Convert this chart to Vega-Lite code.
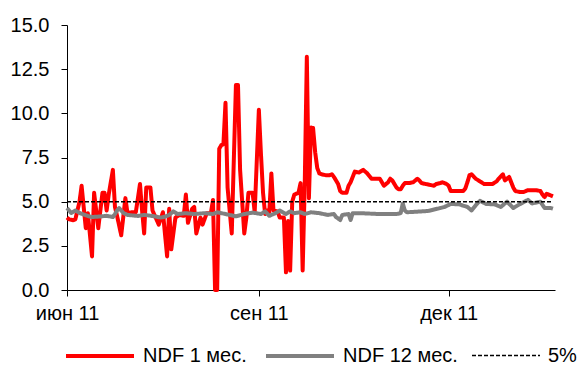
{
  "$schema": "https://vega.github.io/schema/vega-lite/v6.json",
  "width": 488,
  "height": 265,
  "autosize": {"type": "none"},
  "padding": {"left": 67, "top": 25, "right": 28, "bottom": 75},
  "background": "white",
  "config": {
    "view": {"stroke": null},
    "font": "Liberation Sans",
    "axis": {"grid": false, "domainColor": "#000000", "tickColor": "#000000", "labelColor": "#000000", "labelFont": "Liberation Sans", "labelFontSize": 20, "tickSize": 6, "domainWidth": 1, "tickWidth": 1, "title": null},
    "legend": {"labelFont": "Liberation Sans", "labelFontSize": 20, "labelColor": "#000000"}
  },
  "data": {"values": [
    {"d":"2011-06-01","s":"NDF 1 мес.","v":4.1},{"d":"2011-06-02","s":"NDF 1 мес.","v":4.0},{"d":"2011-06-04","s":"NDF 1 мес.","v":3.95},{"d":"2011-06-05","s":"NDF 1 мес.","v":4.0},{"d":"2011-06-07","s":"NDF 1 мес.","v":5.0},{"d":"2011-06-08","s":"NDF 1 мес.","v":5.9},{"d":"2011-06-10","s":"NDF 1 мес.","v":3.5},{"d":"2011-06-11","s":"NDF 1 мес.","v":4.35},{"d":"2011-06-13","s":"NDF 1 мес.","v":1.9},{"d":"2011-06-14","s":"NDF 1 мес.","v":5.5},{"d":"2011-06-16","s":"NDF 1 мес.","v":3.5},{"d":"2011-06-18","s":"NDF 1 мес.","v":5.5},{"d":"2011-06-19","s":"NDF 1 мес.","v":5.5},{"d":"2011-06-20","s":"NDF 1 мес.","v":4.5},{"d":"2011-06-21","s":"NDF 1 мес.","v":5.4},{"d":"2011-06-23","s":"NDF 1 мес.","v":6.8},{"d":"2011-06-24","s":"NDF 1 мес.","v":4.7},{"d":"2011-06-25","s":"NDF 1 мес.","v":4.2},{"d":"2011-06-27","s":"NDF 1 мес.","v":3.1},{"d":"2011-06-29","s":"NDF 1 мес.","v":5.2},{"d":"2011-06-30","s":"NDF 1 мес.","v":4.35},
    {"d":"2011-07-02","s":"NDF 1 мес.","v":4.4},{"d":"2011-07-04","s":"NDF 1 мес.","v":4.4},{"d":"2011-07-06","s":"NDF 1 мес.","v":6.0},{"d":"2011-07-07","s":"NDF 1 мес.","v":4.5},{"d":"2011-07-08","s":"NDF 1 мес.","v":3.2},{"d":"2011-07-09","s":"NDF 1 мес.","v":5.8},{"d":"2011-07-11","s":"NDF 1 мес.","v":5.8},{"d":"2011-07-12","s":"NDF 1 мес.","v":4.5},{"d":"2011-07-15","s":"NDF 1 мес.","v":3.7},{"d":"2011-07-17","s":"NDF 1 мес.","v":4.4},{"d":"2011-07-19","s":"NDF 1 мес.","v":1.9},{"d":"2011-07-20","s":"NDF 1 мес.","v":4.6},{"d":"2011-07-21","s":"NDF 1 мес.","v":2.3},{"d":"2011-07-23","s":"NDF 1 мес.","v":4.1},{"d":"2011-07-25","s":"NDF 1 мес.","v":4.25},{"d":"2011-07-27","s":"NDF 1 мес.","v":4.2},{"d":"2011-07-28","s":"NDF 1 мес.","v":5.4},{"d":"2011-07-29","s":"NDF 1 мес.","v":3.8},{"d":"2011-07-31","s":"NDF 1 мес.","v":4.6},
    {"d":"2011-08-01","s":"NDF 1 мес.","v":4.7},{"d":"2011-08-02","s":"NDF 1 мес.","v":3.2},{"d":"2011-08-04","s":"NDF 1 мес.","v":4.1},{"d":"2011-08-05","s":"NDF 1 мес.","v":3.7},{"d":"2011-08-07","s":"NDF 1 мес.","v":4.35},{"d":"2011-08-09","s":"NDF 1 мес.","v":4.35},{"d":"2011-08-10","s":"NDF 1 мес.","v":5.1},{"d":"2011-08-11","s":"NDF 1 мес.","v":0},{"d":"2011-08-12","s":"NDF 1 мес.","v":0},{"d":"2011-08-13","s":"NDF 1 мес.","v":8.0},{"d":"2011-08-14","s":"NDF 1 мес.","v":8.2},{"d":"2011-08-15","s":"NDF 1 мес.","v":8.25},{"d":"2011-08-16","s":"NDF 1 мес.","v":10.6},{"d":"2011-08-17","s":"NDF 1 мес.","v":5.8},{"d":"2011-08-19","s":"NDF 1 мес.","v":3.2},{"d":"2011-08-21","s":"NDF 1 мес.","v":11.6},{"d":"2011-08-22","s":"NDF 1 мес.","v":11.6},{"d":"2011-08-23","s":"NDF 1 мес.","v":6.8},{"d":"2011-08-25","s":"NDF 1 мес.","v":3.2},{"d":"2011-08-26","s":"NDF 1 мес.","v":4.1},{"d":"2011-08-27","s":"NDF 1 мес.","v":5.5},{"d":"2011-08-29","s":"NDF 1 мес.","v":5.5},{"d":"2011-08-30","s":"NDF 1 мес.","v":4.4},
    {"d":"2011-09-01","s":"NDF 1 мес.","v":10.2},{"d":"2011-09-02","s":"NDF 1 мес.","v":7.7},{"d":"2011-09-03","s":"NDF 1 мес.","v":5.5},{"d":"2011-09-04","s":"NDF 1 мес.","v":4.3},{"d":"2011-09-05","s":"NDF 1 мес.","v":4.5},{"d":"2011-09-06","s":"NDF 1 мес.","v":4.4},{"d":"2011-09-07","s":"NDF 1 мес.","v":6.6},{"d":"2011-09-08","s":"NDF 1 мес.","v":4.5},{"d":"2011-09-10","s":"NDF 1 мес.","v":4.45},{"d":"2011-09-11","s":"NDF 1 мес.","v":4.1},{"d":"2011-09-13","s":"NDF 1 мес.","v":4.1},{"d":"2011-09-14","s":"NDF 1 мес.","v":1.0},{"d":"2011-09-15","s":"NDF 1 мес.","v":3.9},{"d":"2011-09-16","s":"NDF 1 мес.","v":1.1},{"d":"2011-09-17","s":"NDF 1 мес.","v":5.0},{"d":"2011-09-18","s":"NDF 1 мес.","v":5.4},{"d":"2011-09-20","s":"NDF 1 мес.","v":5.5},{"d":"2011-09-21","s":"NDF 1 мес.","v":6.05},{"d":"2011-09-22","s":"NDF 1 мес.","v":1.1},{"d":"2011-09-23","s":"NDF 1 мес.","v":6.0},{"d":"2011-09-24","s":"NDF 1 мес.","v":13.2},{"d":"2011-09-25","s":"NDF 1 мес.","v":5.2},{"d":"2011-09-26","s":"NDF 1 мес.","v":9.2},{"d":"2011-09-27","s":"NDF 1 мес.","v":9.17},{"d":"2011-09-28","s":"NDF 1 мес.","v":7.8},{"d":"2011-09-29","s":"NDF 1 мес.","v":6.9},{"d":"2011-09-30","s":"NDF 1 мес.","v":6.6},
    {"d":"2011-10-01","s":"NDF 1 мес.","v":6.55},{"d":"2011-10-03","s":"NDF 1 мес.","v":6.5},{"d":"2011-10-05","s":"NDF 1 мес.","v":6.5},{"d":"2011-10-06","s":"NDF 1 мес.","v":6.55},{"d":"2011-10-07","s":"NDF 1 мес.","v":6.4},{"d":"2011-10-08","s":"NDF 1 мес.","v":6.2},{"d":"2011-10-09","s":"NDF 1 мес.","v":6.0},{"d":"2011-10-10","s":"NDF 1 мес.","v":5.6},{"d":"2011-10-11","s":"NDF 1 мес.","v":5.5},{"d":"2011-10-13","s":"NDF 1 мес.","v":5.5},{"d":"2011-10-14","s":"NDF 1 мес.","v":5.9},{"d":"2011-10-15","s":"NDF 1 мес.","v":6.1},{"d":"2011-10-16","s":"NDF 1 мес.","v":6.4},{"d":"2011-10-17","s":"NDF 1 мес.","v":6.7},{"d":"2011-10-19","s":"NDF 1 мес.","v":6.65},{"d":"2011-10-21","s":"NDF 1 мес.","v":6.8},{"d":"2011-10-23","s":"NDF 1 мес.","v":6.6},{"d":"2011-10-25","s":"NDF 1 мес.","v":6.3},{"d":"2011-10-27","s":"NDF 1 мес.","v":6.3},{"d":"2011-10-29","s":"NDF 1 мес.","v":6.3},{"d":"2011-10-30","s":"NDF 1 мес.","v":6.1},{"d":"2011-10-31","s":"NDF 1 мес.","v":5.9},
    {"d":"2011-11-02","s":"NDF 1 мес.","v":6.1},{"d":"2011-11-03","s":"NDF 1 мес.","v":6.3},{"d":"2011-11-04","s":"NDF 1 мес.","v":6.2},{"d":"2011-11-06","s":"NDF 1 мес.","v":5.8},{"d":"2011-11-07","s":"NDF 1 мес.","v":5.7},{"d":"2011-11-08","s":"NDF 1 мес.","v":5.7},{"d":"2011-11-09","s":"NDF 1 мес.","v":5.9},{"d":"2011-11-10","s":"NDF 1 мес.","v":6.05},{"d":"2011-11-12","s":"NDF 1 мес.","v":6.05},{"d":"2011-11-14","s":"NDF 1 мес.","v":6.1},{"d":"2011-11-16","s":"NDF 1 мес.","v":6.3},{"d":"2011-11-17","s":"NDF 1 мес.","v":6.2},{"d":"2011-11-18","s":"NDF 1 мес.","v":6.05},{"d":"2011-11-20","s":"NDF 1 мес.","v":6.0},{"d":"2011-11-22","s":"NDF 1 мес.","v":5.95},{"d":"2011-11-24","s":"NDF 1 мес.","v":5.9},{"d":"2011-11-25","s":"NDF 1 мес.","v":6.0},{"d":"2011-11-27","s":"NDF 1 мес.","v":6.05},{"d":"2011-11-28","s":"NDF 1 мес.","v":6.1},{"d":"2011-11-30","s":"NDF 1 мес.","v":6.0},
    {"d":"2011-12-01","s":"NDF 1 мес.","v":5.9},{"d":"2011-12-02","s":"NDF 1 мес.","v":5.6},{"d":"2011-12-04","s":"NDF 1 мес.","v":5.6},{"d":"2011-12-06","s":"NDF 1 мес.","v":5.6},{"d":"2011-12-08","s":"NDF 1 мес.","v":5.6},{"d":"2011-12-09","s":"NDF 1 мес.","v":5.75},{"d":"2011-12-10","s":"NDF 1 мес.","v":6.1},{"d":"2011-12-11","s":"NDF 1 мес.","v":6.5},{"d":"2011-12-12","s":"NDF 1 мес.","v":6.55},{"d":"2011-12-14","s":"NDF 1 мес.","v":6.3},{"d":"2011-12-16","s":"NDF 1 мес.","v":6.15},{"d":"2011-12-18","s":"NDF 1 мес.","v":6.0},{"d":"2011-12-20","s":"NDF 1 мес.","v":6.0},{"d":"2011-12-22","s":"NDF 1 мес.","v":6.0},{"d":"2011-12-24","s":"NDF 1 мес.","v":6.15},{"d":"2011-12-25","s":"NDF 1 мес.","v":6.3},{"d":"2011-12-27","s":"NDF 1 мес.","v":6.55},{"d":"2011-12-28","s":"NDF 1 мес.","v":6.2},{"d":"2011-12-30","s":"NDF 1 мес.","v":6.4},{"d":"2011-12-31","s":"NDF 1 мес.","v":6.1},
    {"d":"2012-01-01","s":"NDF 1 мес.","v":5.8},{"d":"2012-01-02","s":"NDF 1 мес.","v":5.6},{"d":"2012-01-04","s":"NDF 1 мес.","v":5.55},{"d":"2012-01-06","s":"NDF 1 мес.","v":5.55},{"d":"2012-01-08","s":"NDF 1 мес.","v":5.65},{"d":"2012-01-10","s":"NDF 1 мес.","v":5.65},{"d":"2012-01-12","s":"NDF 1 мес.","v":5.65},{"d":"2012-01-14","s":"NDF 1 мес.","v":5.6},{"d":"2012-01-15","s":"NDF 1 мес.","v":5.4},{"d":"2012-01-16","s":"NDF 1 мес.","v":5.26},{"d":"2012-01-17","s":"NDF 1 мес.","v":5.45},{"d":"2012-01-18","s":"NDF 1 мес.","v":5.4},{"d":"2012-01-19","s":"NDF 1 мес.","v":5.35},{"d":"2012-01-20","s":"NDF 1 мес.","v":5.3},
    {"d":"2011-06-01","s":"NDF 12 мес.","v":4.64},{"d":"2011-06-02","s":"NDF 12 мес.","v":4.5},{"d":"2011-06-03","s":"NDF 12 мес.","v":4.36},{"d":"2011-06-05","s":"NDF 12 мес.","v":4.5},{"d":"2011-06-07","s":"NDF 12 мес.","v":4.36},{"d":"2011-06-11","s":"NDF 12 мес.","v":4.19},{"d":"2011-06-13","s":"NDF 12 мес.","v":4.13},{"d":"2011-06-17","s":"NDF 12 мес.","v":4.16},{"d":"2011-06-20","s":"NDF 12 мес.","v":4.2},{"d":"2011-06-23","s":"NDF 12 мес.","v":4.13},{"d":"2011-06-24","s":"NDF 12 мес.","v":4.3},{"d":"2011-06-25","s":"NDF 12 мес.","v":4.5},{"d":"2011-06-26","s":"NDF 12 мес.","v":4.64},{"d":"2011-06-28","s":"NDF 12 мес.","v":4.36},{"d":"2011-06-30","s":"NDF 12 мес.","v":4.25},
    {"d":"2011-07-05","s":"NDF 12 мес.","v":4.19},{"d":"2011-07-08","s":"NDF 12 мес.","v":4.25},{"d":"2011-07-12","s":"NDF 12 мес.","v":4.19},{"d":"2011-07-16","s":"NDF 12 мес.","v":4.1},{"d":"2011-07-18","s":"NDF 12 мес.","v":4.15},{"d":"2011-07-20","s":"NDF 12 мес.","v":4.25},{"d":"2011-07-22","s":"NDF 12 мес.","v":4.45},{"d":"2011-07-24","s":"NDF 12 мес.","v":4.3},{"d":"2011-07-28","s":"NDF 12 мес.","v":4.35},
    {"d":"2011-08-01","s":"NDF 12 мес.","v":4.3},{"d":"2011-08-06","s":"NDF 12 мес.","v":4.35},{"d":"2011-08-10","s":"NDF 12 мес.","v":4.3},{"d":"2011-08-12","s":"NDF 12 мес.","v":4.4},{"d":"2011-08-16","s":"NDF 12 мес.","v":4.3},{"d":"2011-08-21","s":"NDF 12 мес.","v":4.17},{"d":"2011-08-25","s":"NDF 12 мес.","v":4.3},{"d":"2011-08-29","s":"NDF 12 мес.","v":4.38},
    {"d":"2011-09-02","s":"NDF 12 мес.","v":4.3},{"d":"2011-09-04","s":"NDF 12 мес.","v":4.45},{"d":"2011-09-06","s":"NDF 12 мес.","v":4.2},{"d":"2011-09-09","s":"NDF 12 мес.","v":4.35},{"d":"2011-09-11","s":"NDF 12 мес.","v":4.5},{"d":"2011-09-14","s":"NDF 12 мес.","v":4.3},{"d":"2011-09-16","s":"NDF 12 мес.","v":4.45},{"d":"2011-09-18","s":"NDF 12 мес.","v":4.35},{"d":"2011-09-21","s":"NDF 12 мес.","v":4.4},{"d":"2011-09-23","s":"NDF 12 мес.","v":4.3},{"d":"2011-09-26","s":"NDF 12 мес.","v":4.4},{"d":"2011-09-30","s":"NDF 12 мес.","v":4.35},
    {"d":"2011-10-04","s":"NDF 12 мес.","v":4.25},{"d":"2011-10-07","s":"NDF 12 мес.","v":4.3},{"d":"2011-10-08","s":"NDF 12 мес.","v":4.13},{"d":"2011-10-10","s":"NDF 12 мес.","v":3.96},{"d":"2011-10-11","s":"NDF 12 мес.","v":4.25},{"d":"2011-10-14","s":"NDF 12 мес.","v":4.3},{"d":"2011-10-15","s":"NDF 12 мес.","v":3.96},{"d":"2011-10-16","s":"NDF 12 мес.","v":4.35},{"d":"2011-10-19","s":"NDF 12 мес.","v":4.35},{"d":"2011-10-29","s":"NDF 12 мес.","v":4.3},
    {"d":"2011-11-06","s":"NDF 12 мес.","v":4.3},{"d":"2011-11-08","s":"NDF 12 мес.","v":4.35},{"d":"2011-11-09","s":"NDF 12 мес.","v":4.9},{"d":"2011-11-10","s":"NDF 12 мес.","v":4.5},{"d":"2011-11-11","s":"NDF 12 мес.","v":4.4},{"d":"2011-11-21","s":"NDF 12 мес.","v":4.47},{"d":"2011-11-27","s":"NDF 12 мес.","v":4.64},{"d":"2011-11-29","s":"NDF 12 мес.","v":4.7},
    {"d":"2011-12-02","s":"NDF 12 мес.","v":4.87},{"d":"2011-12-06","s":"NDF 12 мес.","v":4.85},{"d":"2011-12-10","s":"NDF 12 мес.","v":4.7},{"d":"2011-12-12","s":"NDF 12 мес.","v":4.5},{"d":"2011-12-14","s":"NDF 12 мес.","v":4.8},{"d":"2011-12-16","s":"NDF 12 мес.","v":5.05},{"d":"2011-12-19","s":"NDF 12 мес.","v":4.87},{"d":"2011-12-23","s":"NDF 12 мес.","v":4.85},{"d":"2011-12-26","s":"NDF 12 мес.","v":4.7},{"d":"2011-12-29","s":"NDF 12 мес.","v":5.0},
    {"d":"2012-01-01","s":"NDF 12 мес.","v":4.64},{"d":"2012-01-04","s":"NDF 12 мес.","v":4.85},{"d":"2012-01-08","s":"NDF 12 мес.","v":5.1},{"d":"2012-01-10","s":"NDF 12 мес.","v":4.9},{"d":"2012-01-14","s":"NDF 12 мес.","v":5.0},{"d":"2012-01-16","s":"NDF 12 мес.","v":4.64},{"d":"2012-01-19","s":"NDF 12 мес.","v":4.64},{"d":"2012-01-20","s":"NDF 12 мес.","v":4.6},
    {"d":"2011-06-01","s":"5%","v":5},{"d":"2012-01-20","s":"5%","v":5}
  ]},
  "encoding": {
    "x": {"field": "d", "type": "temporal",
      "scale": {"type": "utc", "domain": [{"year": 2011, "month": 6, "date": 1, "utc": true}, {"year": 2012, "month": 1, "date": 21, "utc": true}]},
      "axis": {"values": [{"year": 2011, "month": 6, "date": 1, "utc": true}, {"year": 2011, "month": 9, "date": 1, "utc": true}, {"year": 2011, "month": 12, "date": 1, "utc": true}],
        "labelExpr": "['янв','фев','мар','апр','май','июн','июл','авг','сен','окт','ноя','дек'][utcmonth(datum.value)] + ' ' + utcFormat(datum.value, '%y')",
        "labelPadding": 7, "labelFlush": false, "labelOverlap": false}},
    "y": {"field": "v", "type": "quantitative",
      "scale": {"domain": [0, 15], "nice": false, "zero": true},
      "axis": {"values": [0, 2.5, 5, 7.5, 10, 12.5, 15], "format": ".1f", "labelPadding": 12}},
    "color": {"field": "s", "type": "nominal",
      "scale": {"domain": ["NDF 1 мес.", "NDF 12 мес.", "5%"], "range": ["#FF0000", "#808080", "#000000"]},
      "legend": {"orient": "none", "legendX": -3, "legendY": 295, "direction": "horizontal", "title": null, "symbolType": "stroke", "symbolSize": 4624, "labelOffset": 7, "columnPadding": 11, "padding": 0, "labelLimit": 300}},
    "strokeDash": {"field": "s", "type": "nominal",
      "scale": {"domain": ["NDF 1 мес.", "NDF 12 мес.", "5%"], "range": [[1, 0], [1, 0], [4, 2]]}},
    "strokeWidth": {"field": "s", "type": "ordinal",
      "scale": {"type": "ordinal", "domain": ["NDF 1 мес.", "NDF 12 мес.", "5%"], "range": [4, 4, 1.5]}}
  },
  "layer": [
    {"transform": [{"filter": "datum.s === 'NDF 1 мес.'"}], "mark": {"type": "line", "strokeJoin": "round"}},
    {"transform": [{"filter": "datum.s === 'NDF 12 мес.'"}], "mark": {"type": "line", "strokeJoin": "round"}},
    {"transform": [{"filter": "datum.s === '5%'"}], "mark": {"type": "line"}}
  ]
}
